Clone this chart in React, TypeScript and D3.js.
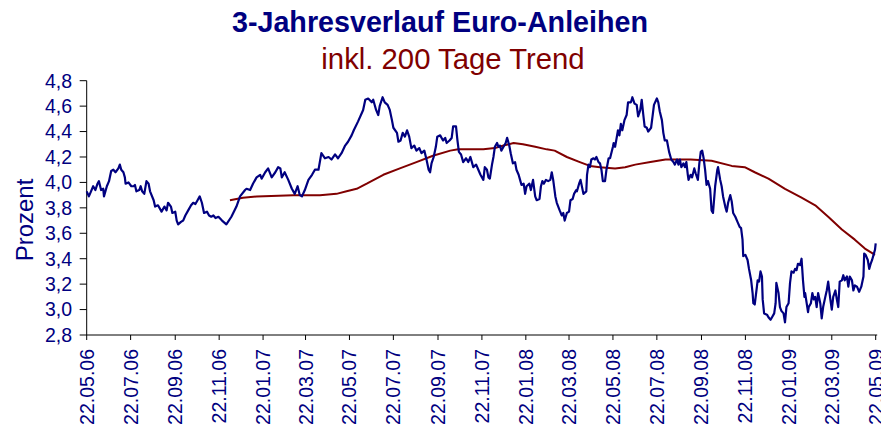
import React from "react";
import * as d3 from "d3";

const startDate = "22.05.06";
const xTickLabels = ["22.05.06","22.07.06","22.09.06","22.11.06","22.01.07","22.03.07","22.05.07","22.07.07","22.09.07","22.11.07","22.01.08","22.03.08","22.05.08","22.07.08","22.09.08","22.11.08","22.01.09","22.03.09","22.05.09"];
const yTicks = [2.8,3.0,3.2,3.4,3.6,3.8,4.0,4.2,4.4,4.6,4.8];

// [days since start, yield %]
const yieldSeries: [number, number][] = [
[0,3.93],[3,3.89],[6,3.93],[9,3.97],[12,3.94],[15,3.99],[17,4.01],[20,3.94],[23,3.95],[24,3.89],[28,3.97],[31,4.01],[34,4.09],[37,4.10],[40,4.08],[44,4.11],[46,4.14],[48,4.10],[51,4.08],[53,4.04],[54,3.99],[58,4.00],[62,3.97],[65,3.97],[67,3.98],[69,3.93],[73,3.94],[75,3.97],[77,3.93],[80,3.91],[83,4.01],[86,3.99],[88,3.93],[93,3.86],[95,3.81],[99,3.82],[104,3.77],[108,3.81],[111,3.78],[113,3.84],[117,3.81],[119,3.76],[123,3.77],[125,3.70],[127,3.67],[131,3.69],[134,3.70],[137,3.74],[141,3.78],[145,3.82],[148,3.84],[151,3.83],[154,3.86],[157,3.89],[160,3.84],[163,3.76],[167,3.77],[170,3.74],[173,3.73],[176,3.74],[179,3.72],[183,3.73],[188,3.70],
[194,3.67],[201,3.73],[208,3.81],[213,3.89],[220,3.94],[222,3.95],[227,3.94],[231,3.99],[236,4.04],[241,4.06],[243,4.03],[248,4.08],[252,4.11],[257,4.04],[262,4.08],[266,4.12],[269,4.11],[271,4.04],[275,4.08],[280,4.02],[285,3.95],[289,3.91],[293,3.97],[296,3.90],[299,3.89],[303,3.94],[308,4.02],[313,4.06],[317,4.10],[322,4.10],[326,4.23],[331,4.19],[336,4.20],[340,4.18],[345,4.22],[349,4.19],[354,4.23],[359,4.29],[363,4.32],[368,4.37],[371,4.41],[377,4.48],
[384,4.57],[387,4.65],[391,4.66],[396,4.63],[398,4.65],[402,4.57],[405,4.53],[407,4.60],[411,4.67],[414,4.63],[418,4.61],[421,4.57],[424,4.49],[426,4.43],[431,4.39],[433,4.32],[436,4.33],[439,4.39],[442,4.36],[445,4.41],[448,4.36],[451,4.27],[455,4.29],[458,4.25],[462,4.27],[465,4.23],[469,4.25],[472,4.18],[475,4.10],[477,4.08],[479,4.15],[482,4.20],[485,4.28],[487,4.36],[491,4.37],[495,4.33],[498,4.35],[500,4.31],[504,4.33],[507,4.35],[509,4.44],[513,4.44],[515,4.33],[517,4.24],[520,4.22],[523,4.16],[527,4.19],[530,4.16],[533,4.20],[537,4.12],[541,4.14],[544,4.10],[547,4.06],[551,4.02],
[553,4.12],[556,4.10],[558,4.04],[560,4.03],[563,4.14],[565,4.20],[567,4.28],[570,4.31],[572,4.28],[574,4.29],[576,4.25],[579,4.28],[582,4.31],[584,4.35],[587,4.29],[589,4.23],[592,4.15],[595,4.16],[597,4.10],[600,4.06],[602,4.02],[604,3.98],[607,3.99],[609,3.91],[611,3.97],[615,3.99],[617,3.94],[620,4.02],[623,3.89],[625,3.86],[629,3.87],[631,3.97],[633,4.01],[635,3.99],[638,4.02],[641,4.01],[644,4.02],[646,4.08],[648,4.02],[651,3.89],[653,3.84],[655,3.81],[657,3.78],[660,3.74],[662,3.76],[664,3.70],[667,3.76],[670,3.77],[672,3.86],[675,3.87],[677,3.91],[680,3.94],[681,3.93],[684,3.99],[686,4.02],[690,3.91],[694,3.93],[695,4.06],[697,4.14],[699,4.12],[701,4.18],[704,4.19],[706,4.18],[708,4.20],[711,4.16],[713,4.15],[715,4.10],[717,4.01],[720,4.01],[722,4.10],[725,4.19],[727,4.19],[731,4.28],
[732,4.31],[734,4.28],[738,4.41],[740,4.37],[742,4.46],[744,4.41],[747,4.49],[750,4.53],[752,4.63],[756,4.63],[758,4.67],[761,4.62],[764,4.61],[766,4.52],[769,4.57],[771,4.65],[773,4.54],[775,4.44],[778,4.43],[780,4.40],[784,4.43],[786,4.52],[788,4.61],[792,4.66],[794,4.63],[796,4.56],[799,4.49],[801,4.39],[803,4.33],[806,4.33],[809,4.24],[812,4.18],[815,4.16],[817,4.14],[820,4.18],[822,4.14],[824,4.18],[826,4.12],[829,4.15],[831,4.12],[833,4.16],[835,4.06],[836,4.02],[839,4.06],[841,4.04],[844,4.11],[846,4.07],[849,4.02],[851,4.15],[853,4.24],[855,4.25],[857,4.19],[859,4.10],[861,3.98],[863,4.01],[866,3.95],[868,3.78],[870,3.76],[873,3.97],[876,4.10],[877,4.12],[880,4.02],[882,3.97],[884,3.89],[887,3.81],[889,3.77],[891,3.84],[894,3.90],[896,3.85],[898,3.76],[901,3.73],[904,3.69],[907,3.65],
[909,3.64],[911,3.55],[912,3.42],[915,3.43],[918,3.39],[920,3.32],[923,3.23],[925,3.13],[926,3.05],[928,3.04],[931,3.18],[932,3.23],[934,3.22],[936,3.30],[938,3.26],[939,3.08],[941,2.97],[945,2.96],[947,2.94],[950,2.92],[952,2.94],[955,2.97],[957,3.05],[958,3.21],[961,3.13],[963,3.02],[965,2.99],[968,2.97],[970,2.90],[972,3.02],[975,3.05],[977,3.21],[979,3.30],[982,3.29],[984,3.32],[986,3.31],[988,3.36],[991,3.35],[993,3.40],[995,3.23],[997,3.10],[998,3.13],[1002,2.98],[1003,3.02],[1006,3.05],[1008,3.13],[1010,3.08],[1012,3.10],[1014,3.02],[1016,3.13],[1019,3.05],[1021,2.93],[1023,3.02],[1026,3.10],[1028,3.15],[1030,3.22],[1033,3.08],[1035,3.00],[1037,3.10],[1040,3.15],[1042,3.08],[1044,3.02],[1046,3.22],[1049,3.23],[1051,3.27],[1053,3.23],[1056,3.26],[1058,3.18],[1060,3.26],[1063,3.23],[1065,3.15],[1067,3.19],[1070,3.18],[1073,3.14],[1076,3.18],[1079,3.26],[1080,3.44],[1082,3.43],[1085,3.39],[1087,3.32],[1089,3.36],[1091,3.39],[1093,3.43],[1095,3.47],[1096,3.52]
];

// [days since start, 200-day trend %]
const trendSeries: [number, number][] = [
[199,3.86],[217,3.88],[236,3.89],[287,3.90],[324,3.90],[347,3.91],[361,3.93],[375,3.95],[389,3.99],[412,4.06],[435,4.11],[458,4.16],[481,4.21],[505,4.25],[516,4.26],[551,4.26],[567,4.27],[579,4.29],[593,4.31],[606,4.30],[623,4.28],[639,4.26],[650,4.25],[667,4.20],[685,4.16],[699,4.13],[713,4.12],[734,4.11],[748,4.12],[762,4.14],[783,4.16],[804,4.18],[839,4.18],[868,4.17],[896,4.13],[914,4.12],[928,4.08],[947,4.03],[970,3.95],[993,3.88],[1012,3.82],[1030,3.73],[1049,3.63],[1067,3.55],[1081,3.48],[1095,3.43]
];

const NAVY = "#000080";
const MAROON = "#800000";
const FONT = "'Liberation Sans', Arial, sans-serif";

export default function App() {
  const parse = d3.timeParse("%d.%m.%y");
  const fmt = d3.timeFormat("%d.%m.%y");
  const start = parse(startDate) as Date;
  const ticks = xTickLabels.map((s) => parse(s) as Date);
  const left = 86.7, right = 875.7, top = 80.7, bottom = 335;
  const x = d3.scaleTime().domain([ticks[0], ticks[ticks.length - 1]]).range([left, right]);
  const y = d3.scaleLinear().domain([2.8, 4.8]).range([bottom, top]);
  const toPts = (s: [number, number][]) => s.map(([d, v]) => [d3.timeDay.offset(start, d), v] as [Date, number]);
  const line = d3.line<[Date, number]>().x((p) => x(p[0])).y((p) => y(p[1]));
  const bluePath = line(toPts(yieldSeries)) || "";
  const redPath = line(toPts(trendSeries)) || "";

  return (
    <div style={{ position: "fixed", left: 0, top: 0 }}>
      <svg width={881} height={432} style={{ display: "block", background: "#fff" }} fontFamily={FONT}>
        <text x={440} y={32} textAnchor="middle" fontSize={28.7} fontWeight="bold" fill={NAVY}>3-Jahresverlauf Euro-Anleihen</text>
        <text x={453} y={69} textAnchor="middle" fontSize={29.3} fill={MAROON}>inkl. 200 Tage Trend</text>
        <text transform={`translate(33,220) rotate(-90)`} textAnchor="middle" fontSize={24} fill={NAVY}>Prozent</text>
        {/* y axis */}
        <line x1={left} x2={left} y1={top} y2={bottom} stroke="#000" strokeWidth={1} />
        {yTicks.map((t) => (
          <g key={t}>
            <line x1={left - 7} x2={left} y1={y(t)} y2={y(t)} stroke="#000" />
            <text x={72} y={y(t)} dy="0.35em" textAnchor="end" fontSize={19.5} fill={NAVY}>{t.toFixed(1).replace(".", ",")}</text>
          </g>
        ))}
        {/* x axis */}
        <line x1={left} x2={right + 1.5} y1={bottom} y2={bottom} stroke="#000" strokeWidth={1} />
        {ticks.map((t, i) => (
          <g key={i}>
            <line x1={x(t)} x2={x(t)} y1={bottom} y2={bottom + 5} stroke="#000" />
            <text transform={`translate(${x(t) + 7},${bottom + 14}) rotate(-90)`} textAnchor="end" fontSize={19.5} fill={NAVY}>{fmt(t)}</text>
          </g>
        ))}
        <path d={redPath} fill="none" stroke={MAROON} strokeWidth={2} strokeLinejoin="round" />
        <path d={bluePath} fill="none" stroke={NAVY} strokeWidth={2.2} strokeLinejoin="round" />
      </svg>
    </div>
  );
}
